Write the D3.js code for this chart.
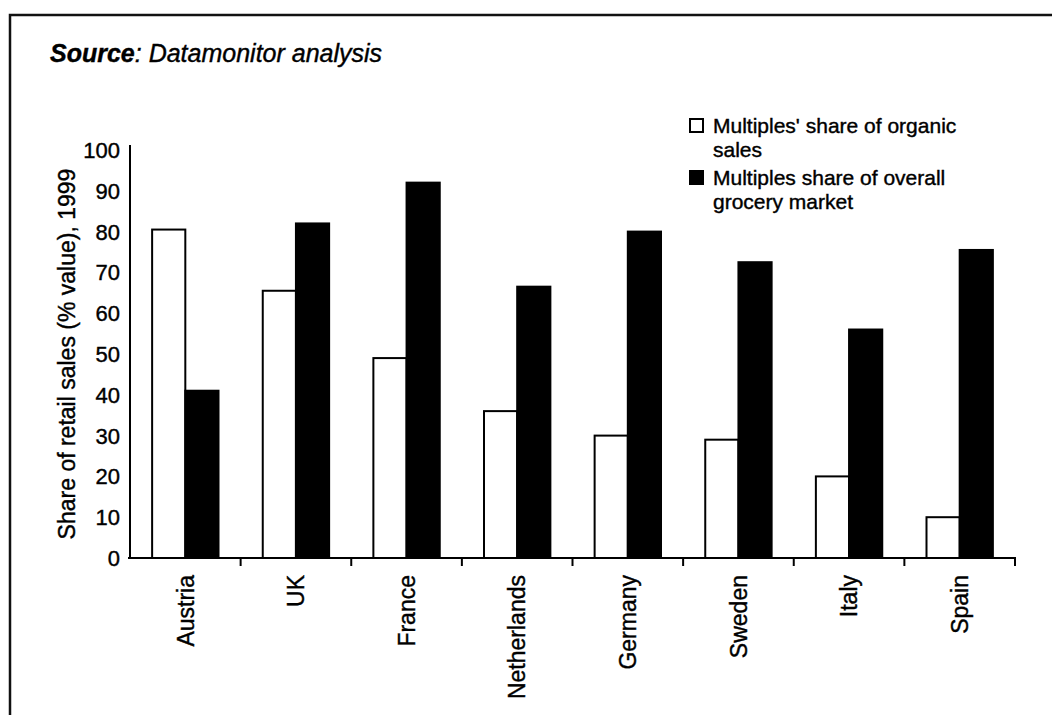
<!DOCTYPE html>
<html>
<head>
<meta charset="utf-8">
<script src="https://cdn.jsdelivr.net/npm/d3@7"></script>
<style>
  body { margin: 0; background: #fff; }
  svg { display: block; font-family: "Liberation Sans", Arial, sans-serif; }
  svg text { stroke: #000; stroke-width: 0.4px; }
</style>
</head>
<body>
<svg id="chart" width="1052" height="715"></svg>
<script>
const countries = ["Austria", "UK", "France", "Netherlands", "Germany", "Sweden", "Italy", "Spain"];
const organicShare = [80.5, 65.5, 49, 36, 30, 29, 20, 10];
const groceryShare = [41, 82, 92, 66.5, 80, 72.5, 56, 75.5];
const yTicks = [0, 10, 20, 30, 40, 50, 60, 70, 80, 90, 100];
const seriesNames = ["Multiples' share of organic sales", "Multiples share of overall grocery market"];

const svg = d3.select("#chart");
const plot = { left: 130, right: 1015, top: 150, bottom: 558 };

// page frame (only top and left edges show)
svg.append("path")
  .attr("d", "M10,715 L10,15 L1052,15")
  .attr("fill", "none")
  .attr("stroke", "#111")
  .attr("stroke-width", 2.5);

svg.append("text")
  .attr("x", 50)
  .attr("y", 62)
  .style("font-size", "25px")
  .style("font-style", "italic")
  .call(t => {
    t.append("tspan").style("font-weight", "bold").text("Source");
    t.append("tspan").text(": Datamonitor analysis");
  });

const x0 = d3.scaleBand().domain(countries).range([plot.left, plot.right]).paddingInner(0.4).paddingOuter(0.2);
const x1 = d3.scaleBand().domain(["organic", "grocery"]).range([0, x0.bandwidth()]);
const y = d3.scaleLinear().domain([0, 100]).range([plot.bottom, plot.top]);

const data = countries.map((c, i) => ({ country: c, organic: organicShare[i], grocery: groceryShare[i] }));

// bars
const groups = svg.append("g")
  .selectAll("g")
  .data(data)
  .join("g")
  .attr("transform", d => `translate(${x0(d.country)},0)`);

groups.selectAll("rect")
  .data(d => [{ key: "organic", value: d.organic }, { key: "grocery", value: d.grocery }])
  .join("rect")
  .attr("x", d => x1(d.key))
  .attr("y", d => y(d.value))
  .attr("width", x1.bandwidth())
  .attr("height", d => y(0) - y(d.value))
  .attr("fill", d => d.key === "organic" ? "#fff" : "#000")
  .attr("stroke", "#000")
  .attr("stroke-width", 2);

// y axis: plain line, labels only
svg.append("line")
  .attr("x1", plot.left).attr("x2", plot.left)
  .attr("y1", plot.top - 5).attr("y2", plot.bottom)
  .attr("stroke", "#000").attr("stroke-width", 2);

svg.append("g")
  .selectAll("text")
  .data(yTicks)
  .join("text")
  .attr("x", plot.left - 10)
  .attr("y", d => y(d))
  .attr("dy", "0.36em")
  .attr("text-anchor", "end")
  .style("font-size", "22px")
  .text(d => d);

// x axis with ticks at band edges
const xAxis = svg.append("g");
xAxis.append("line")
  .attr("x1", plot.left - 2).attr("x2", plot.right + 1)
  .attr("y1", plot.bottom).attr("y2", plot.bottom)
  .attr("stroke", "#000").attr("stroke-width", 2);

const edges = countries.map(c => x0(c) - x0.step() * 0.2 + x0.step());
xAxis.selectAll(".tick")
  .data(edges)
  .join("line")
  .attr("x1", d => d).attr("x2", d => d)
  .attr("y1", plot.bottom).attr("y2", plot.bottom + 8)
  .attr("stroke", "#000").attr("stroke-width", 2);

xAxis.selectAll(".label")
  .data(countries)
  .join("text")
  .attr("transform", d => `translate(${x0(d) + x0.bandwidth() / 2},575) rotate(-90)`)
  .attr("dy", "0.36em")
  .attr("text-anchor", "end")
  .style("font-size", "23px")
  .text(d => d);

svg.append("text")
  .attr("transform", "translate(67,354) rotate(-90)")
  .attr("dy", "0.36em")
  .attr("text-anchor", "middle")
  .style("font-size", "23px")
  .text("Share of retail sales (% value), 1999");

// legend
const legend = svg.append("g");
const legendItems = [
  { fill: "#fff", lines: ["Multiples' share of organic", "sales"], y: 133 },
  { fill: "#000", lines: ["Multiples share of overall", "grocery market"], y: 185 }
];
legendItems.forEach(item => {
  legend.append("rect")
    .attr("x", 690).attr("y", item.y - 14)
    .attr("width", 13).attr("height", 13)
    .attr("fill", item.fill)
    .attr("stroke", "#000").attr("stroke-width", 2);
  item.lines.forEach((ln, i) => {
    legend.append("text")
      .attr("x", 713)
      .attr("y", item.y + i * 24)
      .style("font-size", "21px")
      .text(ln);
  });
});
</script>
</body>
</html>
